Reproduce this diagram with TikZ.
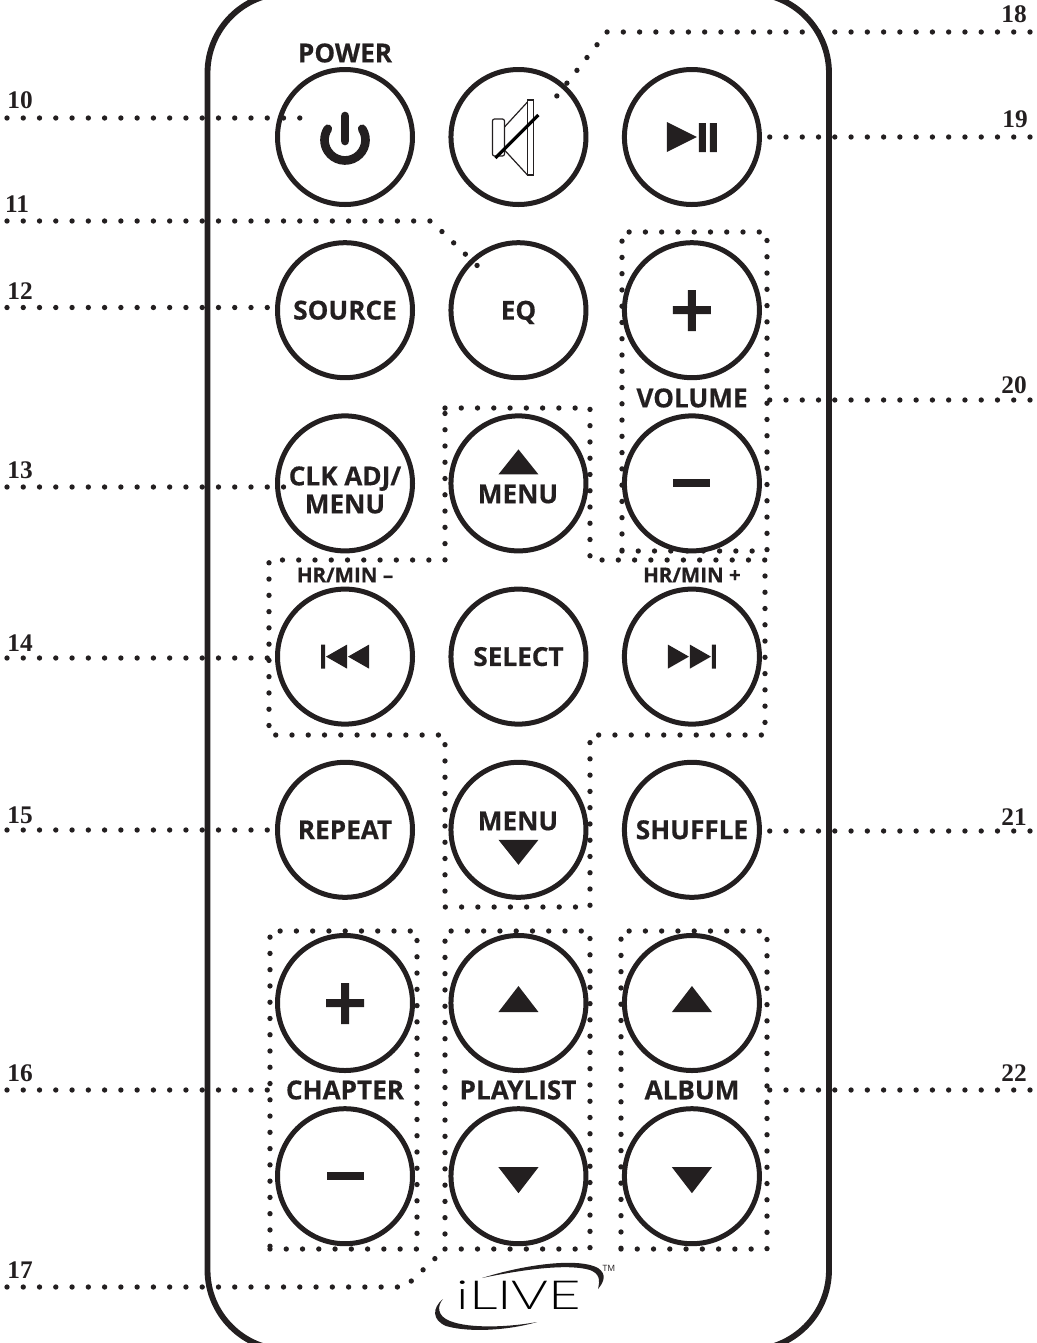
\documentclass[tikz,border=0pt]{standalone}
\usepackage{fontspec}
\usetikzlibrary{positioning}
\newfontfamily\keyfont[BoldFeatures={FakeBold=0.5}]{Open Sans}
\newfontfamily\numfont{Liberation Serif}
\newfontfamily\logofont[FakeStretch=1.4]{Lato Light}
\definecolor{ink}{HTML}{231F20}

\begin{document}
\begin{tikzpicture}[
    x=0.75pt, y=-0.75pt,
    node distance=24.9pt and 25.1pt,
    button/.style={circle, draw=ink, line width=3.75pt, minimum size=101.25pt, inner sep=0pt, align=center, text=ink, font=\keyfont\fontsize{19.6}{19.6}\bfseries},
    keytext/.style={text=ink, inner sep=0pt, align=center, font=\keyfont\fontsize{19.6}{21}\bfseries},
    smalltext/.style={text=ink, inner sep=0pt, font=\keyfont\fontsize{15.4}{15.4}\bfseries},
    number/.style={text=ink, inner sep=0pt, font=\numfont\fontsize{19}{19}\bfseries},
    dots/.style={draw=ink, line width=4pt, line cap=round, dash pattern=on 0pt off 12.2pt},
    dotbox/.style={dots, rectangle, inner sep=0pt, outer sep=0pt},
    icon/.style={fill=ink, draw=none},
    powerline/.style={draw=ink, line width=6.5pt, line cap=round}
]
    \useasboundingbox (0,0) rectangle (1036,1343);

    % Remote body
    \draw[ink, line width=4.4pt, rounded corners=60pt] (207.5,-7) rectangle (829,1350);

    % Dotted groups
    \node[dotbox, minimum width=108.75pt, minimum height=239.25pt] (boxvolume) at (694.5,391.5) {};
    \node[dotbox, minimum width=110.25pt, minimum height=238.5pt] (boxchapter) at (343.5,1090) {};
    \node[dotbox, minimum width=108.75pt, minimum height=238.5pt] (boxplaylist) at (517.5,1090) {};
    \node[dotbox, minimum width=109.5pt, minimum height=238.5pt] (boxalbum) at (694,1090) {};
    \draw[dots] (445,408) -- (590,408) -- (590,560) -- (765,560) -- (765,735) -- (590,735)
      -- (590,907) -- (445,907) -- (445,735) -- (269,735) -- (269,560) -- (445,560) -- cycle;

    % Buttons
    \node[button] (power) at (345,137) {};
    \node[button] (mute) [right=of power] {};
    \node[button] (play) [right=of mute] {};
    \node[button] (source) [below=of power] {SOURCE};
    \node[button, text depth=0pt] (eq) [below=of mute] {EQ};
    \node[button] (volup) [below=of play] {};
    \node[button] (clk) [below=of source] {};
    \node[button] (menuup) [below=of eq] {};
    \node[button] (voldown) [below=of volup] {};
    \node[button] (prev) [below=of clk] {};
    \node[button] (select) [below=of menuup] {SELECT};
    \node[button] (next) [below=of voldown] {};
    \node[button] (repeat) [below=of prev] {REPEAT};
    \node[button] (menudown) [below=of select] {};
    \node[button] (shuffle) [below=of next] {SHUFFLE};
    \node[button] (chapup) [below=of repeat] {};
    \node[button] (listup) [below=of menudown] {};
    \node[button] (albumup) [below=of shuffle] {};
    \node[button] (chapdown) [below=of chapup] {};
    \node[button] (listdown) [below=of listup] {};
    \node[button] (albumdown) [below=of albumup] {};

    % Key labels
    \node[keytext] (powerlabel) at (345,53) {POWER};
    \node[keytext] (vollabel) at (692,398) {VOLUME};
    \node[keytext] (chaplabel) at (345,1090) {CHAPTER};
    \node[keytext] (listlabel) at (518,1090) {PLAYLIST};
    \node[keytext] (albumlabel) at (692,1090) {ALBUM};
    \node[keytext] (menuuplabel) at (518,494) {MENU};
    \node[keytext] (menudownlabel) at (518,821) {MENU};
    \node[keytext] (clklabel) at (345,490) {CLK ADJ/\\MENU};
    \node[smalltext] (hrminus) at (345,575) {HR/MIN \textendash};
    \node[smalltext] (hrplus) at (692,575) {HR/MIN +};

    % Icons
    \draw[powerline, shift={(power.center)}] (17.2,-8.2) arc[start angle=-33, end angle=213, radius=20.5];
    \draw[powerline, shift={(power.center)}] (0,-21) -- (0,4);
    \draw[ink, line width=0.9pt, rounded corners=1.5pt, shift={(mute.center)}] (-26,-18) rectangle (-14,19);
    \draw[ink, line width=0.9pt, shift={(mute.center)}] (-14,-10) -- (9,-35) (-14,13) -- (9,38);
    \draw[ink, line width=0.9pt, shift={(mute.center)}] (9,-37) rectangle (15,38);
    \draw[black, line width=2.4pt, shift={(mute.center)}] (-23,21) -- (20,-22);
    \path[icon, shift={(play.center)}] (-25,-15) -- (5,0) -- (-25,15) -- cycle;
    \path[icon, shift={(play.center)}] (7,-14) rectangle (14,15) (18,-14) rectangle (25,15);
    \path[icon, shift={(volup.center)}] (-19,-4) rectangle (19,4) (-4,-20) rectangle (4,21);
    \path[icon, shift={(chapup.center)}] (-19,-4) rectangle (19,4) (-4,-20) rectangle (4,21);
    \path[icon, shift={(voldown.center)}] (-18.5,-4) rectangle (18.5,4);
    \path[icon, shift={(chapdown.center)}] (-18.5,-4) rectangle (18.5,4);
    \path[icon, shift={(menuup.center)}] (-20,-9) -- (20,-9) -- (0,-34) -- cycle;
    \path[icon, shift={(menudown.center)}] (-20,10) -- (20,10) -- (0,35) -- cycle;
    \path[icon, shift={(listup.center)}] (-20,9) -- (20,9) -- (0,-17) -- cycle;
    \path[icon, shift={(albumup.center)}] (-20,9) -- (20,9) -- (0,-17) -- cycle;
    \path[icon, shift={(listdown.center)}] (-20,-9) -- (20,-9) -- (0,17) -- cycle;
    \path[icon, shift={(albumdown.center)}] (-20,-9) -- (20,-9) -- (0,17) -- cycle;
    \path[icon, shift={(prev.center)}] (-24,-12) rectangle (-20,12) (2,-12) -- (2,12) -- (-19,0) -- cycle (24,-12) -- (24,12) -- (3,0) -- cycle;
    \path[icon, shift={(next.center)}] (24,-12) rectangle (20,12) (-24,-12) -- (-24,12) -- (-3,0) -- cycle (-2,-12) -- (-2,12) -- (19,0) -- cycle;

    % Logo
    \node[text=black, inner sep=0pt, font=\logofont\fontsize{30}{30}\selectfont] (logo) at (519,1295) {iLIVE};
    \node[text=ink, inner sep=0pt, font=\keyfont\fontsize{6.5}{6.5}\selectfont] (tm) at (609,1268) {TM};
    \path[icon] (482,1278) .. controls (530,1263) and (580,1258) .. (598,1268)
      .. controls (607,1274) and (604,1282) .. (598,1289)
      .. controls (600,1280) and (600,1274) .. (590,1270)
      .. controls (570,1264) and (530,1268) .. (482,1278) -- cycle;
    \path[icon] (443,1299) .. controls (432,1308) and (432,1320) .. (446,1326)
      .. controls (470,1333) and (510,1330) .. (537,1322)
      .. controls (510,1327) and (470,1329) .. (450,1321)
      .. controls (437,1316) and (437,1306) .. (443,1299) -- cycle;

    % Leader coordinates
    \coordinate (lead10) at (7,118);
    \coordinate (lead11) at (7,221);
    \coordinate (lead12) at (7,307.5);
    \coordinate (lead13) at (7,487);
    \coordinate (lead14) at (7,658);
    \coordinate (lead15) at (7,830);
    \coordinate (lead16) at (7,1090);
    \coordinate (lead17) at (7,1287);
    \coordinate (lead18) at (1030,32);
    \coordinate (lead19) at (1030,137);
    \coordinate (lead20) at (1030,400);
    \coordinate (lead21) at (1030,831);
    \coordinate (lead22) at (1030,1090);
    \coordinate (end10) at (305,118);
    \coordinate (bend11) at (431,221);
    \coordinate (end11) at (487,275);
    \coordinate (end13) at (287,487);
    \coordinate (bend17) at (405,1287);
    \coordinate (bend18) at (607,32);
    \coordinate (end18) at (556,97);

    % Leaders
    \draw[dots] (lead10) -- (end10);
    \draw[dots] (lead11) -- (bend11) -- (end11);
    \draw[dots] (lead12) -- (source.west |- lead12);
    \draw[dots] (lead13) -- (end13);
    \draw[dots] (lead14) -- (prev.west |- lead14);
    \draw[dots] (lead15) -- (repeat.west |- lead15);
    \draw[dots] (lead16) -- (boxchapter.west);
    \draw[dots] (lead17) -- (bend17) -- (boxplaylist.south west);
    \draw[dots] (lead18) -- (bend18) -- (end18);
    \draw[dots] (lead19) -- (play.east);
    \draw[dots] (lead20) -- (boxvolume.east |- lead20);
    \draw[dots] (lead21) -- (shuffle.east |- lead21);
    \draw[dots] (lead22) -- (boxalbum.east);

    % Numbers
    \node[number] (num10) at (20,100) {10};
    \node[number] (num11) at (17,204) {11};
    \node[number] (num12) at (20,291) {12};
    \node[number] (num13) at (20,470) {13};
    \node[number] (num14) at (20,643) {14};
    \node[number] (num15) at (20,815) {15};
    \node[number] (num16) at (20,1073) {16};
    \node[number] (num17) at (20,1270) {17};
    \node[number] (num18) at (1014,14) {18};
    \node[number] (num19) at (1015,119) {19};
    \node[number] (num20) at (1014,385) {20};
    \node[number] (num21) at (1014,817) {21};
    \node[number] (num22) at (1014,1073) {22};
\end{tikzpicture}
\end{document}
